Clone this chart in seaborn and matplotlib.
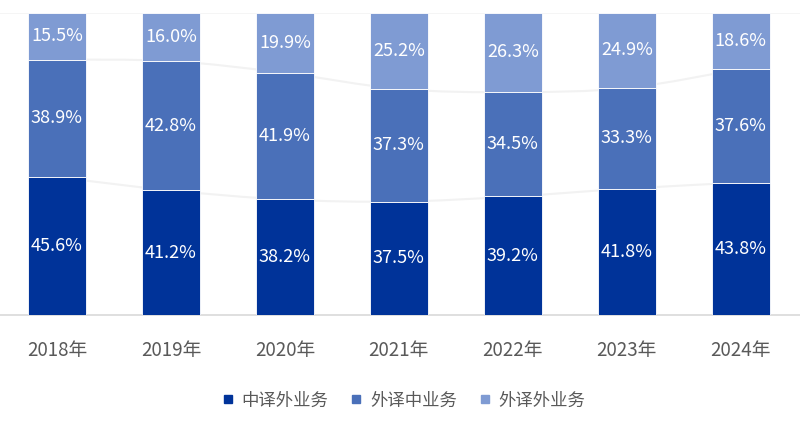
import numpy as np
import matplotlib
matplotlib.use("Agg")
import matplotlib.pyplot as plt
from matplotlib.path import Path
from matplotlib.patches import PathPatch
from matplotlib.lines import Line2D
import seaborn as sns

years = ["2018年", "2019年", "2020年", "2021年", "2022年", "2023年", "2024年"]
series_names = ["中译外业务", "外译中业务", "外译外业务"]
zh_to_foreign = [45.6, 41.2, 38.2, 37.5, 39.2, 41.8, 43.8]
foreign_to_zh = [38.9, 42.8, 41.9, 37.3, 34.5, 33.3, 37.6]
foreign_to_foreign = [15.5, 16.0, 19.9, 25.2, 26.3, 24.9, 18.6]
colors = ["#003399", "#4A70B9", "#7F9BD3"]

sns.set_theme(style="white")
plt.rcParams['font.family'] = ['Noto Sans CJK SC', 'DejaVu Sans']

fig = plt.figure(figsize=(8, 4.25), dpi=100)
ax = fig.add_axes([0, 0.259, 1, 0.711])

layers = [zh_to_foreign, foreign_to_zh, foreign_to_foreign]
bottom = np.zeros(len(years))
for vals, col in zip(layers, colors):
    sns.barplot(x=years, y=vals, bottom=bottom, color=col, width=0.51,
                edgecolor="white", linewidth=0.6, saturation=1, ax=ax, zorder=3)
    for i, v in enumerate(vals):
        ax.text(i, bottom[i] + v / 2, f"{v:.1f}%", ha="center", va="center",
                color="white", fontsize=13, zorder=4)
    bottom = bottom + np.array(vals)


# faint smooth connectors between segment boundaries
def smooth_path(xs, ys):
    pts = list(zip(xs, ys))
    verts = [pts[0]]
    codes = [Path.MOVETO]
    n = len(pts)
    for i in range(n - 1):
        p0 = pts[i - 1] if i > 0 else pts[i]
        p1 = pts[i]
        p2 = pts[i + 1]
        p3 = pts[i + 2] if i + 2 < n else pts[i + 1]
        c1 = (p1[0] + (p2[0] - p0[0]) / 6, p1[1] + (p2[1] - p0[1]) / 6)
        c2 = (p2[0] - (p3[0] - p1[0]) / 6, p2[1] - (p3[1] - p1[1]) / 6)
        verts += [c1, c2, p2]
        codes += [Path.CURVE4] * 3
    return Path(verts, codes)


xs = np.arange(len(years))
cum1 = np.array(zh_to_foreign)
cum2 = cum1 + np.array(foreign_to_zh)
for ys in [cum1, cum2]:
    ax.add_patch(PathPatch(smooth_path(xs, ys), facecolor="none",
                           edgecolor="#F2F2F2", linewidth=1.5, zorder=1))
ax.axhline(100, color="#F4F4F4", linewidth=1.2, zorder=1)

ax.set_xlim(-0.5, 6.52)
ax.set_ylim(0, 100)
ax.set_yticks([])
ax.set_xlabel("")
for s in ["top", "left", "right"]:
    ax.spines[s].set_visible(False)
ax.spines["bottom"].set_color("#D9D9D9")
ax.spines["bottom"].set_linewidth(1.2)
ax.tick_params(axis="x", length=0, pad=18, labelsize=13.5, labelcolor="#595959")

handles = [Line2D([0], [0], marker="s", linestyle="none", markersize=6,
                  markerfacecolor=c, markeredgecolor=c) for c in colors]
fig.legend(handles, series_names, loc="center", bbox_to_anchor=(0.503, 0.058),
           ncol=3, frameon=False, fontsize=12.5, labelcolor="#595959",
           handletextpad=0.3, columnspacing=1.1, handlelength=1.0)

fig.savefig("out.png", dpi=100)
